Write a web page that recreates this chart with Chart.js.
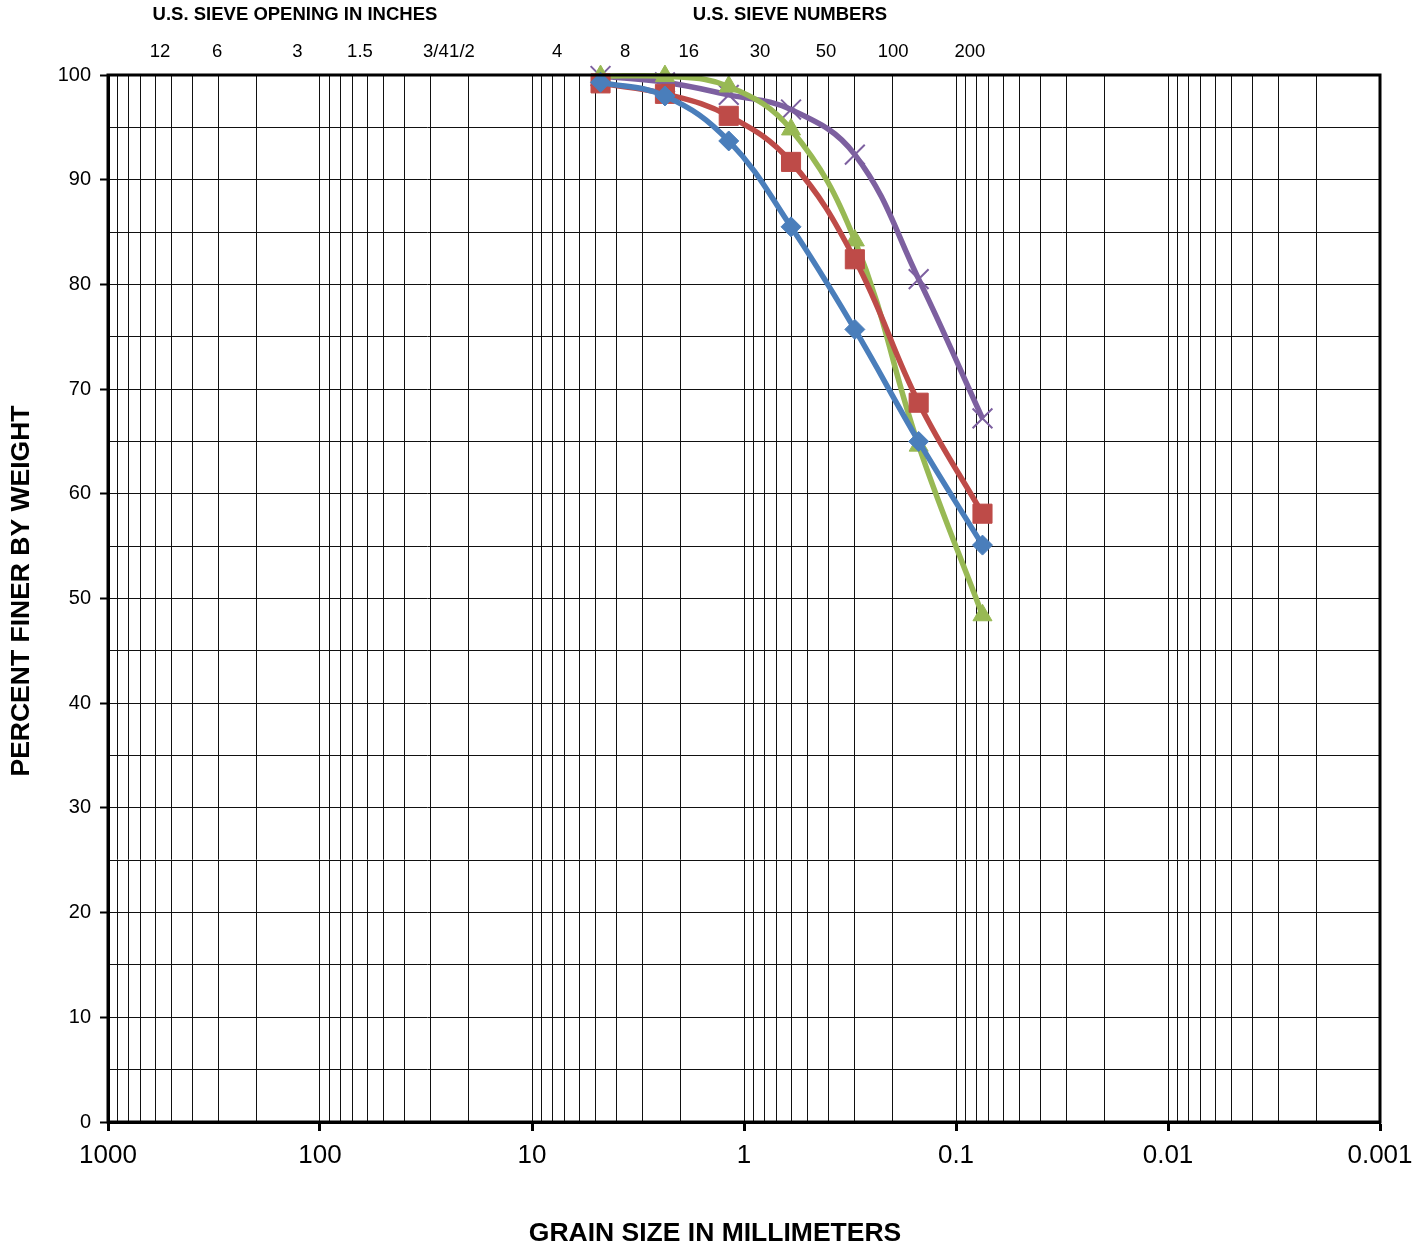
<!DOCTYPE html>
<html>
<head>
<meta charset="utf-8">
<title>Grain size distribution</title>
<script src="https://cdn.jsdelivr.net/npm/chart.js@4.4.1/dist/chart.umd.min.js"></script>
<style>
  html, body { margin: 0; padding: 0; background: #fff; }
  #wrap { width: 1426px; height: 1249px; }
</style>
</head>
<body>
<div id="wrap"><canvas id="gradation" width="1426" height="1249"></canvas></div>
<script>
// sieve sizes in mm (#4, #8, #16, #30, #50, #100, #200)
const sieveSizes = [4.75, 2.36, 1.18, 0.6, 0.3, 0.15, 0.075];

// percent finer for each sample
const sampleBlue   = [99.3, 98.0, 93.7, 85.5, 75.7, 65.0, 55.1];
const sampleRed    = [99.2, 98.2, 96.1, 91.7, 82.4, 68.7, 58.1];
const sampleGreen  = [99.9, 99.9, 98.9, 94.8, 84.2, 64.6, 48.4];
const samplePurple = [99.9, 99.3, 98.1, 96.7, 92.4, 80.5, 67.2];

// top labels (text + position in mm where they sit)
const inchLabels    = ["12", "6", "3", "1.5", "3/4", "1/2"];
const inchLabelPos  = [569, 306, 128, 64.8, 28.4, 21.4];
const sieveLabels   = ["4", "8", "16", "30", "50", "100", "200"];
const sieveLabelPos = [7.62, 3.64, 1.82, 0.84, 0.41, 0.198, 0.086];

const FONT = "'Liberation Sans', Arial, sans-serif";

function toPoints(values) {
  return sieveSizes.map((s, i) => ({ x: s, y: values[i] }));
}

function isDecade(v) {
  const l = Math.log10(v);
  return Math.abs(l - Math.round(l)) < 1e-9;
}

function formatDecade(v) {
  if (v >= 1) return String(Math.round(v));
  return v.toFixed(Math.round(-Math.log10(v)));
}

// titles, sieve labels and the frame
const sieveText = {
  id: "sieveText",
  afterDraw(chart) {
    const { ctx, chartArea, scales } = chart;
    const x = scales.x;
    ctx.save();
    ctx.fillStyle = "#000";
    ctx.textAlign = "center";
    ctx.textBaseline = "middle";

    ctx.font = "bold 18.5px " + FONT;
    ctx.fillText("U.S. SIEVE OPENING IN INCHES", 295, 15);
    ctx.fillText("U.S. SIEVE NUMBERS", 790, 15);

    ctx.font = "18.5px " + FONT;
    inchLabels.forEach((t, i) => ctx.fillText(t, x.getPixelForValue(inchLabelPos[i]), 52));
    sieveLabels.forEach((t, i) => ctx.fillText(t, x.getPixelForValue(sieveLabelPos[i]), 52));

    ctx.font = "bold 26.5px " + FONT;
    ctx.fillText("GRAIN SIZE IN MILLIMETERS", 715, 1234);
    ctx.save();
    ctx.translate(22, 591);
    ctx.rotate(-Math.PI / 2);
    ctx.fillText("PERCENT FINER BY WEIGHT", 0, 0);
    ctx.restore();

    ctx.strokeStyle = "#000";
    ctx.lineWidth = 3;
    ctx.strokeRect(chartArea.left, chartArea.top, chartArea.right - chartArea.left, chartArea.bottom - chartArea.top);
    ctx.restore();
  }
};

const ctx = document.getElementById("gradation").getContext("2d");

new Chart(ctx, {
  type: "line",
  data: {
    datasets: [
      {
        label: "Sample 1",
        data: toPoints(sampleBlue),
        borderColor: "#4A7EBB",
        backgroundColor: "#4A7EBB",
        pointStyle: "rectRot",
        pointRadius: 10,
        pointBorderWidth: 1
      },
      {
        label: "Sample 2",
        data: toPoints(sampleRed),
        borderColor: "#BE4B48",
        backgroundColor: "#BE4B48",
        pointStyle: "rect",
        pointRadius: 13.5,
        pointBorderWidth: 1
      },
      {
        label: "Sample 3",
        data: toPoints(sampleGreen),
        borderColor: "#98B954",
        backgroundColor: "#98B954",
        pointStyle: "triangle",
        pointRadius: 11,
        pointBorderWidth: 1
      },
      {
        label: "Sample 4",
        data: toPoints(samplePurple),
        borderColor: "#7D60A0",
        backgroundColor: "#7D60A0",
        pointStyle: "crossRot",
        pointRadius: 14,
        pointBorderWidth: 2
      }
    ]
  },
  options: {
    responsive: false,
    animation: false,
    devicePixelRatio: 1,
    clip: false,
    layout: { padding: { left: 0, right: 46, top: 75, bottom: 0 } },
    elements: {
      line: { borderWidth: 5.5, tension: 0.4, fill: false }
    },
    plugins: {
      legend: { display: false },
      tooltip: { enabled: false }
    },
    scales: {
      x: {
        type: "logarithmic",
        min: 0.001,
        max: 1000,
        reverse: true,
        afterFit(scale) { scale.height = 127; },
        afterBuildTicks(scale) {
          const ticks = [];
          for (let e = -3; e < 3; e++) {
            for (let m = 1; m <= 9; m++) {
              ticks.push({ value: m * Math.pow(10, e) });
            }
          }
          ticks.push({ value: 1000 });
          scale.ticks = ticks;
        },
        border: { display: true, color: "#000", width: 3 },
        grid: {
          color: "#111",
          lineWidth: 1,
          drawTicks: true,
          tickLength: 9,
          tickColor: c => (c.tick && isDecade(c.tick.value) ? "#000" : "rgba(0,0,0,0)"),
          tickWidth: 3
        },
        ticks: {
          autoSkip: false,
          maxRotation: 0,
          padding: 9,
          color: "#000",
          font: { family: FONT, size: 26 },
          callback: v => (isDecade(v) ? formatDecade(v) : "")
        }
      },
      y: {
        min: 0,
        max: 100,
        afterFit(scale) { scale.width = 108; },
        border: { display: true, color: "#000", width: 3 },
        grid: {
          color: "#111",
          lineWidth: 1,
          drawTicks: true,
          tickLength: 8,
          tickColor: c => (c.tick && c.tick.value % 10 === 0 ? "#000" : "rgba(0,0,0,0)"),
          tickWidth: 2
        },
        ticks: {
          stepSize: 5,
          padding: 9,
          color: "#000",
          font: { family: FONT, size: 20 },
          callback: v => (v % 10 === 0 ? String(v) : "")
        }
      }
    }
  },
  plugins: [sieveText]
});
</script>
</body>
</html>
